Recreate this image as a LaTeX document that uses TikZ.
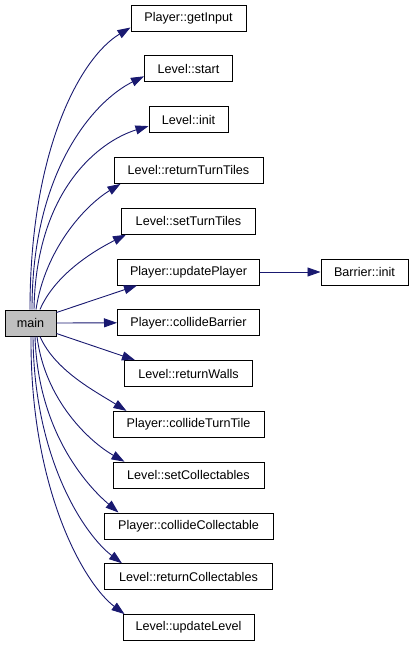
\documentclass[tikz,border=0pt]{standalone}
\usepackage{fontspec}
\setmainfont{Liberation Sans}
\usetikzlibrary{arrows.meta,calc}
\definecolor{edgeblue}{HTML}{191970}
\definecolor{maingray}{HTML}{BFBFBF}
\begin{document}
\begin{tikzpicture}[x=1pt,y=1pt,
  fn/.style={draw=black, line width=1pt, fill=white, minimum height=26pt, inner sep=0pt,
    font=\fontsize{12.6}{14}\selectfont},
  edge/.style={draw=edgeblue, line width=0.9pt, -{Triangle[length=13pt,width=9pt]}}]
\useasboundingbox (0,0) rectangle (412,-645);
\node[fn, fill=maingray, minimum width=51pt] (main) at (30.5,-323) {main};
\node[fn, minimum width=115pt] (getInput) at (188.5,-18) {Player::getInput};
\node[fn, minimum width=88pt] (start) at (188.5,-68.8) {Level::start};
\node[fn, minimum width=79pt] (init) at (188.5,-119.6) {Level::init};
\node[fn, minimum width=149pt] (rtt) at (188.5,-170.4) {Level::returnTurnTiles};
\node[fn, minimum width=134pt] (stt) at (188.5,-221.2) {Level::setTurnTiles};
\node[fn, minimum width=142pt] (up) at (188.5,-272) {Player::updatePlayer};
\node[fn, minimum width=87pt] (binit) at (364.5,-272) {Barrier::init};
\node[fn, minimum width=142pt] (cb) at (188.5,-322.8) {Player::collideBarrier};
\node[fn, minimum width=128pt] (rw) at (188.5,-373.6) {Level::returnWalls};
\node[fn, minimum width=151pt] (ctt) at (188.5,-424.4) {Player::collideTurnTile};
\node[fn, minimum width=151pt] (sc) at (188.5,-475.2) {Level::setCollectables};
\node[fn, minimum width=169pt] (cc) at (188.5,-526) {Player::collideCollectable};
\node[fn, minimum width=168pt] (rc) at (188.5,-576.8) {Level::returnCollectables};
\node[fn, minimum width=131pt] (ul) at (188.5,-627.6) {Level::updateLevel};

\draw[edge] ([xshift=-0.5pt]main.north) .. controls +(0,160) and +(-50,-30) .. ([yshift=4pt]getInput.south west);
\draw[edge] ([xshift=1.5pt]main.north) .. controls +(0,140) and +(-49,-24) .. ([yshift=6pt]start.south west);
\draw[edge] ([xshift=3.5pt]main.north) .. controls +(2,120) and +(-49,-15) .. ([yshift=7pt]init.south west);
\draw[edge] ([xshift=5.5pt]main.north) .. controls +(9,60) and +(-36,-22) .. ([xshift=7pt]rtt.south west);
\draw[edge] ([xshift=9.5pt]main.north) .. controls +(15,35) and +(-32,-16) .. ([xshift=5pt]stt.south west);
\draw[edge] ([yshift=-3pt]main.north east) -- ([xshift=20pt]up.south west);
\draw[edge] (main.east) -- (cb.west);
\draw[edge] ([yshift=3pt]main.south east) -- ([xshift=11pt]rw.north west);
\draw[edge] ([xshift=9.5pt]main.south) .. controls +(15,-34) and +(-32,20) .. ([xshift=14pt]ctt.north west);
\draw[edge] ([xshift=6.5pt]main.south) .. controls +(8,-64) and +(-35,20) .. ([xshift=12pt]sc.north west);
\draw[edge] ([xshift=4.5pt]main.south) .. controls +(3,-94) and +(-33,28) .. ([xshift=15pt]cc.north west);
\draw[edge] ([xshift=2.5pt]main.south) .. controls +(1,-124) and +(-37,28) .. ([xshift=18pt]rc.north west);
\draw[edge] ([xshift=0.5pt]main.south) .. controls +(-1,-154) and +(-40,30) .. ([xshift=2pt]ul.north west);
\draw[edge] (up.east) -- (binit.west);
\end{tikzpicture}
\end{document}
